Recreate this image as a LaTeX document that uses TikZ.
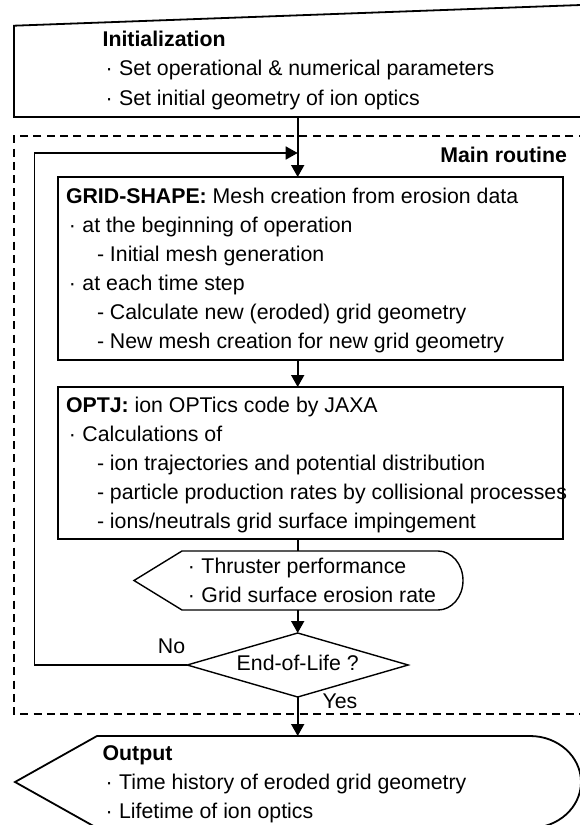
\documentclass[tikz,border=0pt]{standalone}
\usepackage{fontspec}
\setmainfont{Liberation Sans}
\usetikzlibrary{arrows.meta,shapes.geometric}
\newcommand{\bl}{\makebox[16.5pt][l]{\hspace{2.9pt}·}}
\newcommand{\dl}{\hspace*{31pt}-\ }
\begin{document}
\begin{tikzpicture}[x=1pt,y=-1pt,
  txt/.style={inner sep=0pt,outer sep=0pt,font=\fontsize{21.3}{29}\selectfont},
  ln/.style={txt,anchor=base west},
  boxline/.style={line width=1.8pt},
  thinline/.style={line width=1.4pt},
  conn/.style={line width=1.8pt},
  arr/.style={conn,-{Triangle[length=12pt,width=13pt]}},
  proc/.style={draw,boxline,rectangle,minimum width=505.3pt,inner sep=0pt,outer sep=0pt},
]
\useasboundingbox (0,0) rectangle (580,825);
\clip (0,0) rectangle (580,825);

% Initialization (manual input shape)
\draw[boxline] (14,25.7) -- (600,4.3) -- (600,117) -- (14,117) -- cycle;
\coordinate (initB) at (297.7,117);
\node[ln] (i0) at (102.6,46) {\textbf{Initialization}};
\node[ln] (i1) at (102.6,75.5) {\bl Set operational \& numerical parameters};
\node[ln] (i2) at (102.6,105) {\bl Set initial geometry of ion optics};

% Main routine dashed frame
\draw[boxline,dash pattern=on 8pt off 5.3pt] (600,136) -- (14,136) -- (14,714) -- (600,714);
\node[txt,anchor=base east] (mr) at (567,162) {\textbf{Main routine}};

% GRID-SHAPE box
\node[proc,minimum height=183pt] (grid) at (310.35,268.5) {};
\node[ln] (g0) at (66,203.5) {\textbf{GRID-SHAPE:} Mesh creation from erosion data};
\node[ln] (g1) at (66,232.5) {\bl at the beginning of operation};
\node[ln] (g2) at (66,261.5) {\dl Initial mesh generation};
\node[ln] (g3) at (66,290.5) {\bl at each time step};
\node[ln] (g4) at (66,319.5) {\dl Calculate new (eroded) grid geometry};
\node[ln] (g5) at (66,348.5) {\dl New mesh creation for new grid geometry};

% OPTJ box
\node[proc,minimum height=152pt] (optj) at (310.35,463) {};
\node[ln] (o0) at (66,412) {\textbf{OPTJ:} ion OPTics code by JAXA};
\node[ln] (o1) at (66,441) {\bl Calculations of};
\node[ln] (o2) at (66,470) {\dl ion trajectories and potential distribution};
\node[ln] (o3) at (66,499) {\dl particle production rates by collisional processes};
\node[ln] (o4) at (66,528) {\dl ions/neutrals grid surface impingement};

% Display shape
\draw[thinline] (134,580.5) -- (182,551) -- (438,551)
  arc[start angle=90,end angle=-90,x radius=25pt,y radius=29.5pt] -- (182,610) -- cycle;
\coordinate (dispT) at (297.7,551);
\coordinate (dispB) at (297.7,610);
\node[ln] (d1) at (185,573.5) {\bl Thruster performance};
\node[ln] (d2) at (185,602.5) {\bl Grid surface erosion rate};

% Decision
\node[draw,thinline,diamond,aspect=3.45,minimum width=221pt,minimum height=64pt,
  txt,text height=13pt,text depth=3pt] (eol) at (297.7,665) {End-of-Life ?};
\node[txt,anchor=base] (no) at (171.5,653.5) {No};
\node[txt,anchor=base] (yes) at (340,708.5) {Yes};

% Output shape
\draw[boxline] (15,782) -- (97,736) -- (530,736)
  arc[start angle=90,end angle=-90,x radius=51pt,y radius=46pt] -- (97,828) -- cycle;
\coordinate (outT) at (297.7,736);
\node[ln] (u0) at (102.6,760) {\textbf{Output}};
\node[ln] (u1) at (102.6,789) {\bl Time history of eroded grid geometry};
\node[ln] (u2) at (102.6,818) {\bl Lifetime of ion optics};

% Connectors
\coordinate (lx) at (34.5,153);
\coordinate (loopin) at (297.7,153);
\draw[arr] (initB) -- (initB |- grid.north);
\draw[conn,line width=1.6pt,-{Triangle[length=12pt,width=13pt]}] (eol.west) -| (lx) -- (loopin);
\draw[arr] (initB |- grid.south) -- (initB |- optj.north);
\draw[conn] (initB |- optj.south) -- (dispT);
\draw[arr] (dispB) -- (eol.north);
\draw[arr] (eol.south) -- (outT);
\end{tikzpicture}
\end{document}
